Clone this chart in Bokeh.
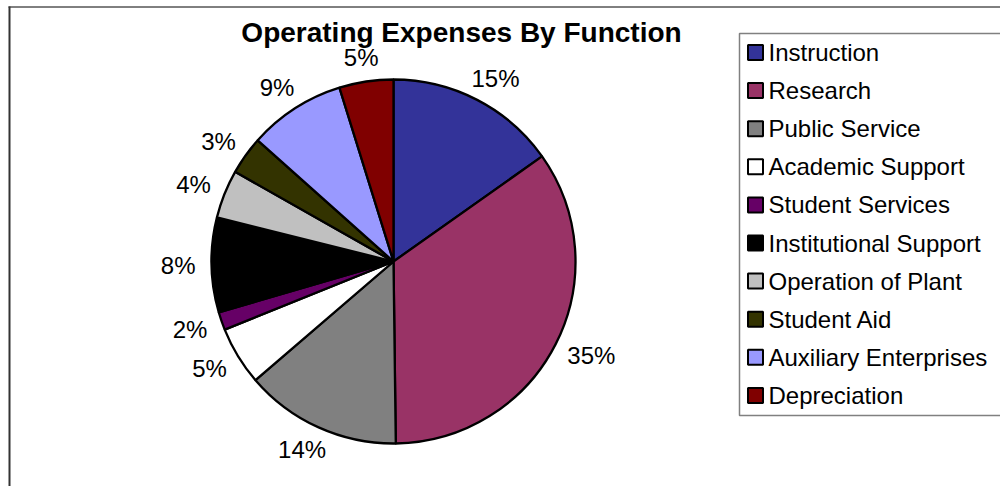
import numpy as np
from bokeh.plotting import figure
from bokeh.models import Range1d, ColumnDataSource
from bokeh.core.properties import value
from bokeh.embed import file_html
from bokeh.resources import INLINE

categories = ["Instruction", "Research", "Public Service", "Academic Support",
              "Student Services", "Institutional Support", "Operation of Plant",
              "Student Aid", "Auxiliary Enterprises", "Depreciation"]
shares = [15.2, 34.6, 13.9, 5.2, 1.6, 8.4, 4.3, 3.4, 8.6, 4.8]
colors = ["#333399", "#993366", "#808080", "#FFFFFF", "#660066",
          "#000000", "#C0C0C0", "#333300", "#9999FF", "#800000"]
title_text = "Operating Expenses By Function"

W, H = 1000, 486
FONT = "Liberation Sans"

p = figure(width=W, height=H, output_backend="svg", toolbar_location=None,
           x_range=Range1d(0, W), y_range=Range1d(0, H),
           min_border_left=0, min_border_top=0, min_border_right=0,
           min_border_bottom=0)
p.axis.visible = False
p.grid.visible = False
p.outline_line_color = None
p.background_fill_color = "white"
p.border_fill_color = "white"


def sy(y):
    return H - y


# chart area border (left and top edges visible in the reference)
p.line(x=[8, W], y=[sy(6.5), sy(6.5)], line_color="black", line_width=1)
p.line(x=[9, 9], y=[0, sy(6)], line_color="#333333", line_width=2)

# pie geometry (data units == pixels)
cx, cy, r = 393, sy(261), 182
vals = np.array(shares, dtype=float)
frac = vals / vals.sum()
cum = np.concatenate([[0], np.cumsum(frac)])
start = np.pi / 2 - 2 * np.pi * cum[:-1]
end = np.pi / 2 - 2 * np.pi * cum[1:]
mid = (start + end) / 2
labels = [f"{round(v)}%" for v in vals]

src = ColumnDataSource(dict(start=start, end=end, color=colors))
p.wedge(x=cx, y=cy, radius=r, start_angle="start", end_angle="end",
        direction="clock", fill_color="color", line_color="black",
        line_width=2.3, source=src)

# label placement: box just outside the pie edge
fs = 24
lw = np.array([fs * (0.556 * (len(t) - 1) + 0.889) for t in labels])
lh = 17
gap_r = r + 16
lx = cx + gap_r * np.cos(mid) + 0.5 * lw * np.cos(mid)
ly = cy + gap_r * np.sin(mid) + 0.5 * lh * np.sin(mid)
lsrc = ColumnDataSource(dict(x=lx, y=ly, t=labels))
p.text(x="x", y="y", text="t", source=lsrc, text_font=value(FONT),
       text_font_size=f"{fs}px", text_align="center", text_baseline="middle",
       text_color="black")

# title
p.text(x=[461], y=[sy(32)], text=[title_text], text_font=value(FONT),
       text_font_size="28px", text_font_style="bold", text_align="center",
       text_baseline="middle", text_color="black")

# legend (box runs off the right edge, as in the reference)
p.quad(left=[739], right=[1010], top=[sy(33)], bottom=[sy(415)],
       fill_color="white", line_color="#808080", line_width=1.5)
n = len(categories)
rows_y = sy(52 + 38.1 * np.arange(n))
p.rect(x=[755] * n, y=rows_y, width=15, height=15, fill_color=colors,
       line_color="black", line_width=2)
p.text(x=[768] * n, y=rows_y, text=categories, text_font=value(FONT),
       text_font_size="24px", text_align="left", text_baseline="middle",
       text_color="black")

open("out.html", "w").write(file_html(p, INLINE))
